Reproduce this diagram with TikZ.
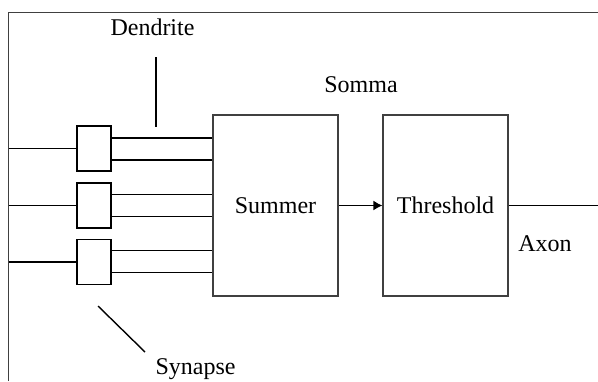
\documentclass[tikz,border=0pt]{standalone}
\usepackage{fontspec}
\setmainfont{Liberation Serif}
\usetikzlibrary{arrows.meta,positioning}

\begin{document}
\begin{tikzpicture}[
  x=0.5pt, y=-0.5pt,
  every node/.style={font=\fontsize{12}{14}\selectfont, inner sep=0pt},
  synbox/.style={draw, line width=0.8pt, minimum width=17pt, minimum height=22.5pt},
  dendbox/.style={draw, line width=0.8pt, minimum width=51pt, minimum height=11pt},
  unit/.style={draw=black!75, line width=0.6pt, minimum width=62.5pt, minimum height=90.5pt},
  wire/.style={line width=0.7pt},
  label/.style={anchor=base},
]
\useasboundingbox (0,0) rectangle (598,381);
% frame (top and left edge)
\draw[black!75, line width=0.7pt] (8.5,381) -- (8.5,12.5) -- (598,12.5);

% synapses and dendrites
\node[synbox] (syn1) at (94,148.5) {};
\node[synbox] (syn2) at (94,205.5) {};
\node[synbox] (syn3) at (94,262) {};
\node[dendbox] (dend1) at (162,149) {};
\node[dendbox] (dend2) at (162,205.5) {};
\node[dendbox] (dend3) at (162,261.5) {};

% inputs
\coordinate (in1) at (8.5,148.5);
\coordinate (in2) at (8.5,205.5);
\coordinate (in3) at (8.5,262);
\draw[wire] (in1) -- (syn1.west);
\draw[wire] (in2) -- (syn2.west);
\draw[wire] (in3) -- (syn3.west);

% soma
\node[unit] (summer) at (275.5,205.5) {Summer};
\node[unit] (thresh) at (445.5,205.5) {Threshold};
\draw[wire, -{Latex[length=4.5pt,width=5pt]}] (summer.east) -- (thresh.west);
\coordinate (axonend) at (598,205.5);
\draw[wire] (thresh.east) -- (axonend);

% labels
\node[label] (dendlbl) at (152.5,35) {Dendrite};
\node[label] (somalbl) at (361,92) {Somma};
\node[label] (axonlbl) at (545,251) {Axon};
\node[label] (synlbl) at (195.5,374) {Synapse};

% pointers
\coordinate (dtop) at (156,57);
\coordinate (dbot) at (156,126.5);
\draw[line width=0.8pt] (dtop) -- (dbot);
\coordinate (stop) at (98,306);
\coordinate (sbot) at (145,352);
\draw[line width=0.7pt] (stop) -- (sbot);
\end{tikzpicture}
\end{document}
